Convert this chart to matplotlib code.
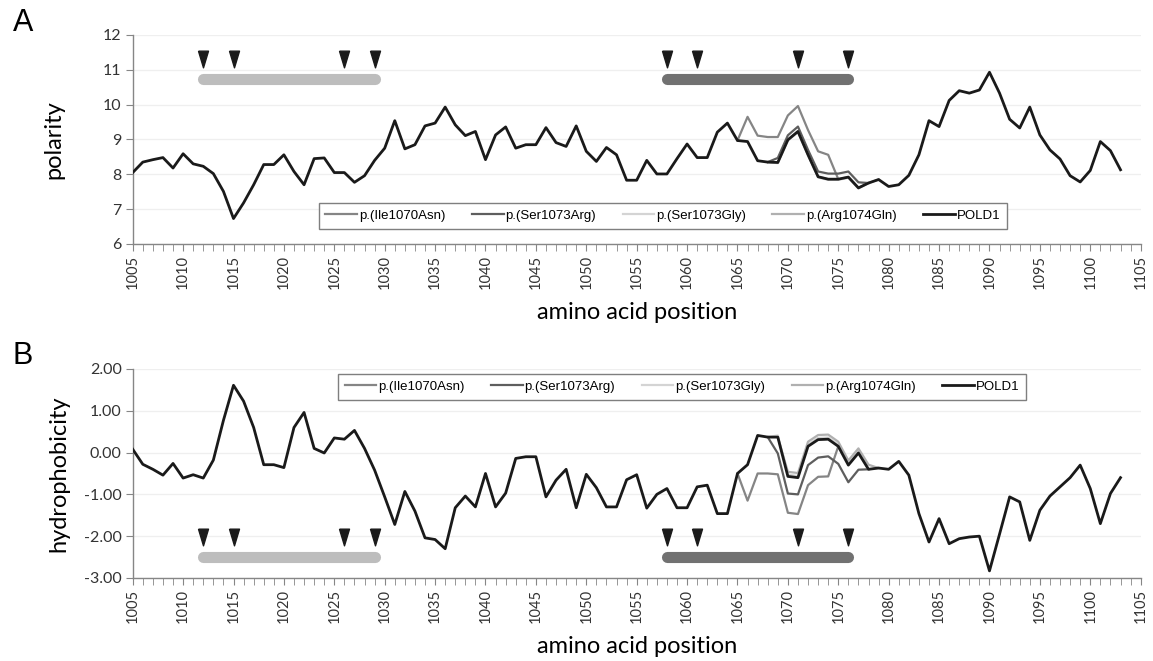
import matplotlib
matplotlib.use('Agg')
import matplotlib.pyplot as plt
from matplotlib.ticker import MultipleLocator, FuncFormatter

plt.rcParams['axes.unicode_minus'] = False

# ---------------- data ----------------
positions = list(range(1005, 1104))

polarity_pold1 = [
    8.05, 8.35, 8.42, 8.48, 8.18, 8.59, 8.30, 8.23, 8.02, 7.51,
    6.73, 7.18, 7.70, 8.28, 8.28, 8.56, 8.08, 7.70, 8.45, 8.47,
    8.05, 8.05, 7.77, 7.96, 8.40, 8.75, 9.54, 8.73, 8.85, 9.39,
    9.47, 9.93, 9.42, 9.11, 9.23, 8.42, 9.13, 9.36, 8.75, 8.85,
    8.85, 9.34, 8.91, 8.80, 9.39, 8.66, 8.37, 8.77, 8.56, 7.83,
    7.83, 8.40, 8.01, 8.01, 8.45, 8.87, 8.48, 8.48, 9.21, 9.47,
    8.97, 8.94, 8.39, 8.35, 8.34, 8.99, 9.23, 8.56, 7.93, 7.86,
    7.86, 7.92, 7.61, 7.75, 7.85, 7.65, 7.70, 7.97, 8.56, 9.54,
    9.37, 10.12, 10.40, 10.33, 10.42, 10.93, 10.33, 9.58, 9.33, 9.93,
    9.13, 8.70, 8.44, 7.96, 7.78, 8.11, 8.94, 8.68, 8.13]

hydro_pold1 = [
    0.08, -0.28, -0.40, -0.54, -0.26, -0.61, -0.53, -0.61, -0.18, 0.77,
    1.61, 1.23, 0.60, -0.29, -0.29, -0.36, 0.60, 0.96, 0.10, -0.01,
    0.35, 0.32, 0.53, 0.10, -0.42, -1.06, -1.72, -0.93, -1.40, -2.04,
    -2.08, -2.30, -1.32, -1.04, -1.30, -0.50, -1.30, -0.97, -0.14, -0.10,
    -0.10, -1.06, -0.66, -0.40, -1.32, -0.52, -0.84, -1.30, -1.30, -0.65,
    -0.53, -1.33, -1.00, -0.86, -1.32, -1.32, -0.82, -0.78, -1.46, -1.46,
    -0.50, -0.29, 0.41, 0.37, 0.37, -0.57, -0.60, 0.15, 0.31, 0.32,
    0.15, -0.30, -0.01, -0.40, -0.37, -0.40, -0.21, -0.54, -1.46, -2.14,
    -1.58, -2.18, -2.06, -2.02, -2.00, -2.83, -1.95, -1.06, -1.18, -2.10,
    -1.38, -1.04, -0.82, -0.60, -0.30, -0.86, -1.70, -0.98, -0.60]

# variant segments (where they differ from POLD1)
ile_pos = list(range(1065, 1076))
ser_arg_pos = list(range(1068, 1079))
ser_gly_pos = list(range(1068, 1079))
arg_gln_pos = list(range(1069, 1080))

pol_ile = [8.97, 9.65, 9.11, 9.07, 9.07, 9.69, 9.96, 9.27, 8.66, 8.56, 7.86]
pol_ser_arg = [8.35, 8.47, 9.12, 9.37, 8.70, 8.08, 8.02, 8.02, 8.08, 7.77, 7.75]
pol_ser_gly = [8.35, 8.32, 8.97, 9.21, 8.54, 7.91, 7.84, 7.84, 7.90, 7.59, 7.75]
pol_arg_gln = [8.34, 8.99, 9.23, 8.56, 7.93, 7.86, 7.86, 7.92, 7.61, 7.75, 7.85]

hyd_ile = [-0.50, -1.15, -0.50, -0.50, -0.52, -1.44, -1.47, -0.78, -0.58, -0.57, 0.15]
hyd_ser_arg = [0.37, -0.02, -0.98, -1.00, -0.30, -0.12, -0.09, -0.27, -0.71, -0.41, -0.40]
hyd_ser_gly = [0.37, 0.41, -0.53, -0.56, 0.19, 0.35, 0.36, 0.19, -0.26, 0.03, -0.40]
hyd_arg_gln = [0.37, -0.46, -0.49, 0.26, 0.42, 0.43, 0.26, -0.19, 0.10, -0.29, -0.37]

series_labels = ['p.(Ile1070Asn)', 'p.(Ser1073Arg)', 'p.(Ser1073Gly)',
                 'p.(Arg1074Gln)', 'POLD1']
series_colors = ['#858585', '#5e5e5e', '#d4d4d4', '#b0b0b0', '#1a1a1a']

cys_sites = [1012, 1015, 1026, 1029, 1058, 1061, 1071, 1076]
motif_spans = [(1012, 1029), (1058, 1076)]
motif_colors = ['#bdbdbd', '#717171']

# ---------------- figure ----------------
fig = plt.figure(figsize=(11.53, 6.61), dpi=100)
axA = fig.add_axes([0.1151, 0.6309, 0.8742, 0.3162])
axB = fig.add_axes([0.1151, 0.1256, 0.8742, 0.3162])

tri = [(-0.6, 1.0), (0.6, 1.0), (0.0, -1.0), (-0.6, 1.0)]
tick_font = 'Lato'


def draw_panel(ax, pold1, variants, ylim, yfmt, ylabel, ylabelpad, tri_y, bar_y, leg_loc):
    var_pos = [ile_pos, ser_arg_pos, ser_gly_pos, arg_gln_pos]
    for p, v, lab, c in zip(var_pos, variants, series_labels[:4], series_colors[:4]):
        ax.plot(p, v, color=c, lw=1.6, label=lab, zorder=3)
    ax.plot(positions, pold1, color=series_colors[4], lw=2.0, label=series_labels[4], zorder=4)

    for (s, e), c in zip(motif_spans, motif_colors):
        ax.plot([s, e], [bar_y, bar_y], color=c, lw=8.0, solid_capstyle='round', zorder=2)
    ax.plot(cys_sites, [tri_y] * len(cys_sites), linestyle='none', marker=tri,
            markersize=12, color='#1a1a1a', zorder=5)

    ax.set_xlim(1005, 1105)
    ax.set_ylim(*ylim)
    ax.xaxis.set_major_locator(MultipleLocator(5))
    ax.xaxis.set_minor_locator(MultipleLocator(1))
    ax.yaxis.set_major_locator(MultipleLocator(1))
    ax.yaxis.set_major_formatter(FuncFormatter(yfmt))
    ax.grid(axis='y', color='#efefef', lw=0.9, zorder=0)
    ax.set_axisbelow(True)
    for sp in ['top', 'right']:
        ax.spines[sp].set_visible(False)
    for sp in ['left', 'bottom']:
        ax.spines[sp].set_color('#868686')
        ax.spines[sp].set_linewidth(1.0)
    ax.tick_params(axis='x', which='major', length=5, color='#868686', labelrotation=90,
                   labelsize=10.5, labelcolor='#333333', pad=3)
    ax.tick_params(axis='x', which='minor', length=5, color='#868686')
    ax.tick_params(axis='y', which='major', length=5, color='#868686',
                   labelsize=11.5, labelcolor='#333333', pad=3)
    for t in ax.get_xticklabels() + ax.get_yticklabels():
        t.set_fontfamily(tick_font)
    ax.set_xlabel('amino acid position', fontsize=17, fontfamily=tick_font, labelpad=9)
    ax.set_ylabel(ylabel, fontsize=17, fontfamily=tick_font, labelpad=ylabelpad)
    leg = ax.legend(loc='center', bbox_to_anchor=leg_loc, ncol=5, frameon=True,
                    fancybox=False, edgecolor='#7f7f7f', framealpha=1,
                    prop={'family': 'Liberation Sans', 'size': 9.5},
                    handlelength=2.4, handletextpad=0.15, columnspacing=2.0,
                    borderpad=0.5)
    leg.get_frame().set_linewidth(1.0)
    leg.set_zorder(6)


draw_panel(axA, polarity_pold1, [pol_ile, pol_ser_arg, pol_ser_gly, pol_arg_gln],
           (6, 12), lambda v, p: f'{v:.0f}', 'polarity', 28, 11.31, 10.75, (0.526, 0.134))
draw_panel(axB, hydro_pold1, [hyd_ile, hyd_ser_arg, hyd_ser_gly, hyd_arg_gln],
           (-3, 2), lambda v, p: f'{v:.2f}', 'hydrophobicity', 10, -2.03, -2.5, (0.545, 0.914))

fig.text(0.02, 0.965, 'A', fontsize=22, fontfamily='Liberation Sans', va='center', ha='center')
fig.text(0.02, 0.462, 'B', fontsize=22, fontfamily='Liberation Sans', va='center', ha='center')

fig.savefig('out.png', dpi=100)
